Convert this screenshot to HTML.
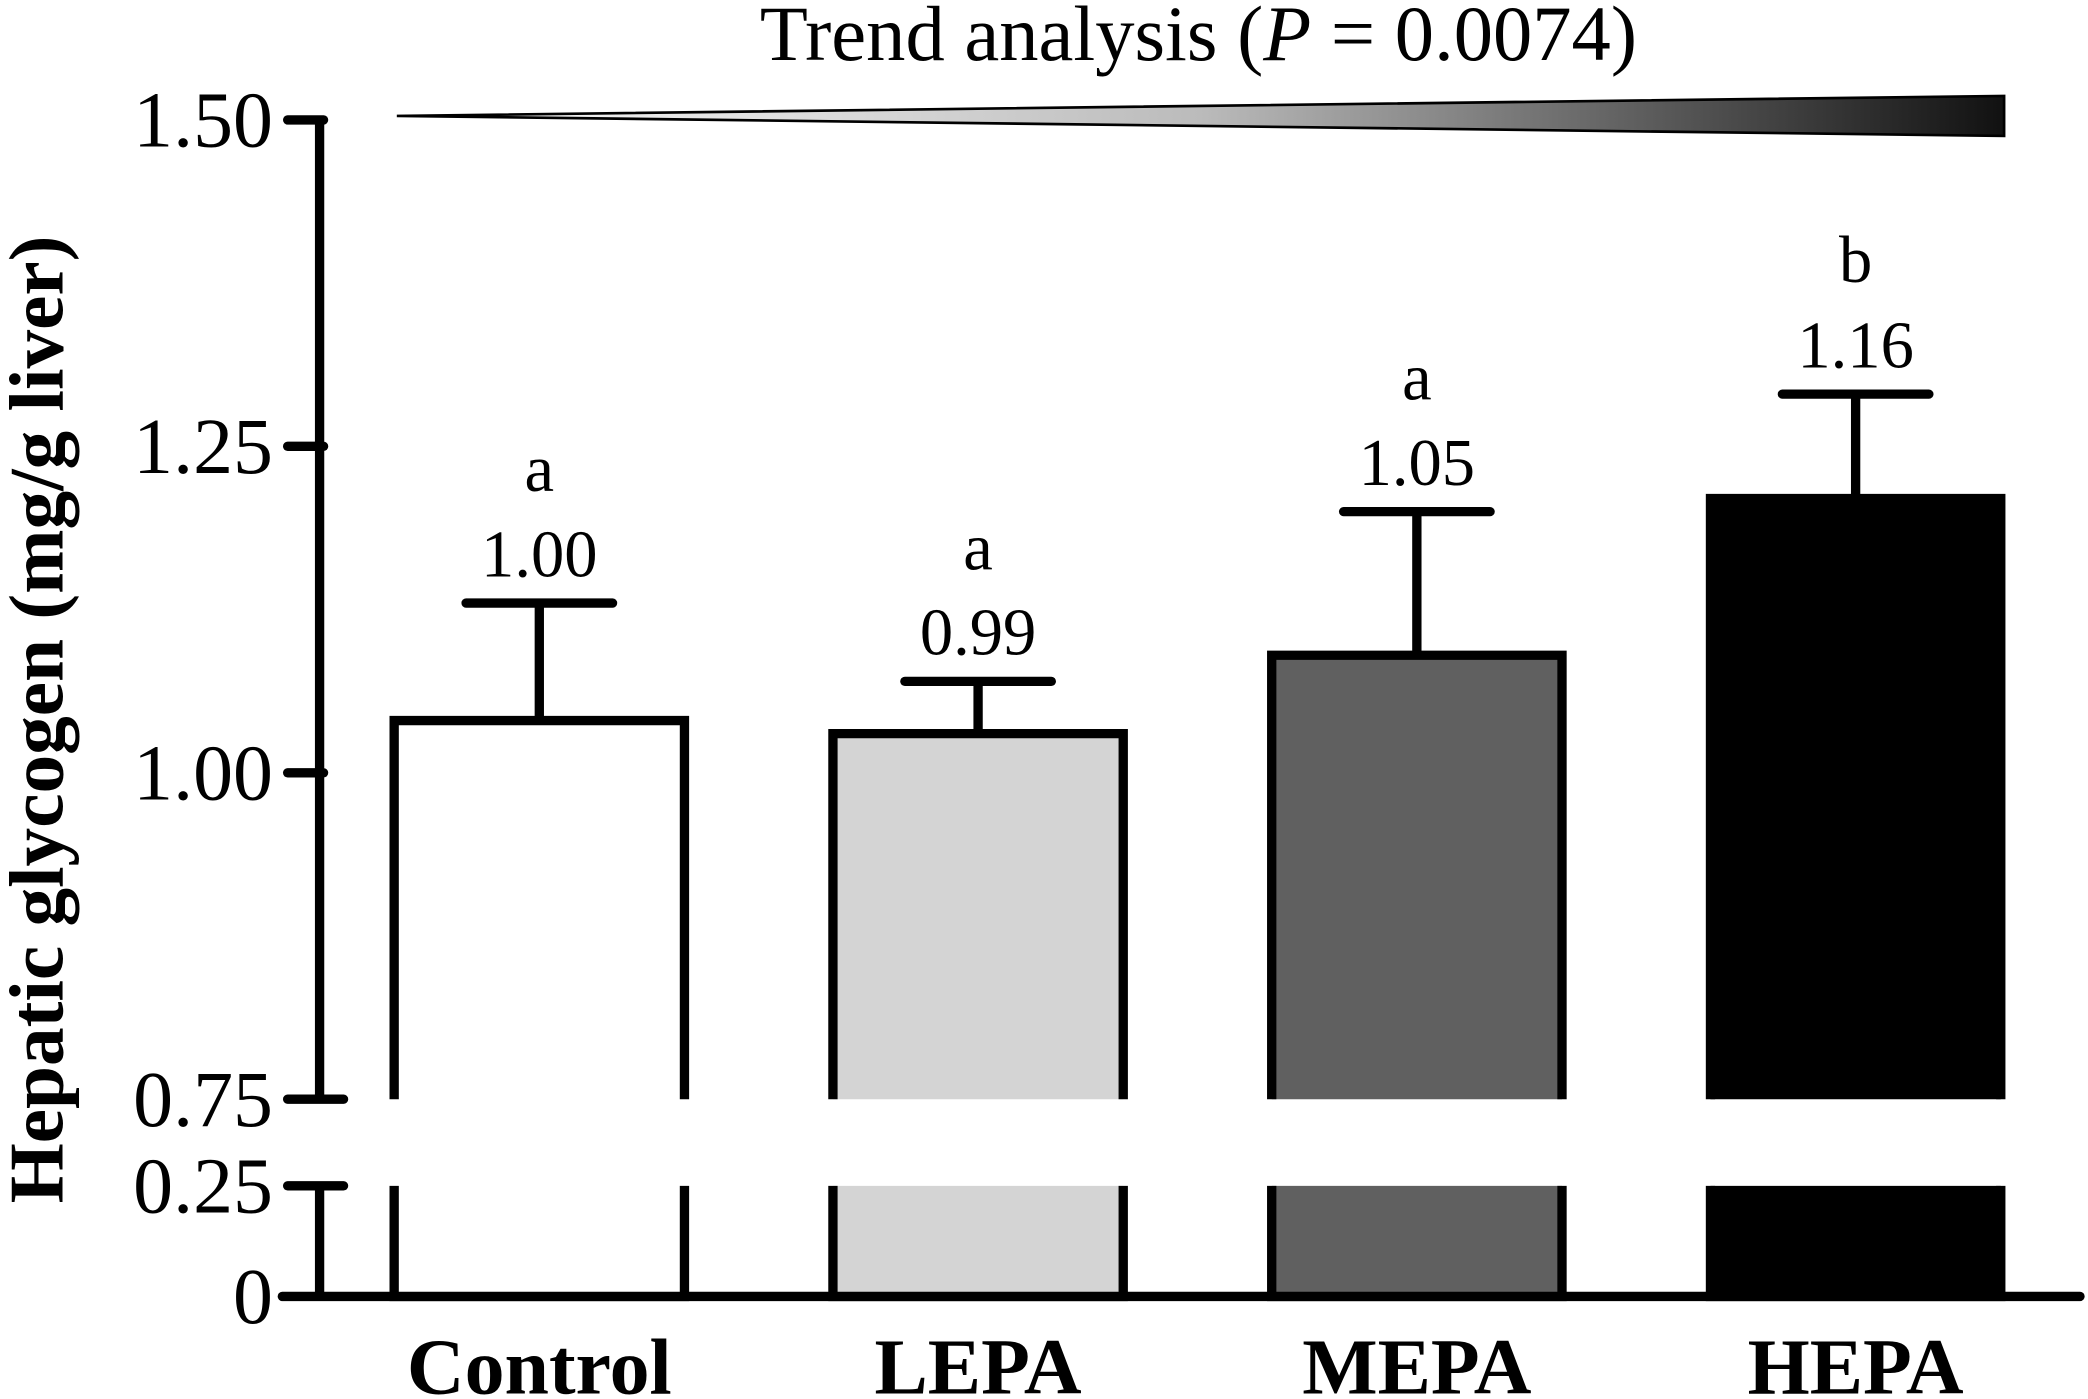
<!DOCTYPE html>
<html><head><meta charset="utf-8"><style>
html,body{margin:0;padding:0;background:#fff;width:2088px;height:1399px;overflow:hidden}
svg{display:block}
text{font-family:"Liberation Serif",serif;fill:#000}
</style></head><body>
<svg id="chart" width="2088" height="1399" viewBox="0 0 1568 1050" preserveAspectRatio="none" xmlns="http://www.w3.org/2000/svg">
<defs><linearGradient id="tg" x1="0" x2="1" y1="0" y2="0"><stop offset="0" stop-color="#fff"/><stop offset="0.5" stop-color="#bbb"/><stop offset="1" stop-color="#111"/></linearGradient></defs>
<text x="900" y="45" font-size="59" text-anchor="middle">Trend analysis (<tspan font-style="italic">P</tspan> = 0.0074)</text>
<polygon points="298,87 1505,72 1505,102" fill="url(#tg)" stroke="#000" stroke-width="2"/>
<text transform="translate(47,540) rotate(-90)" font-size="58" font-weight="bold" text-anchor="middle">Hepatic glycogen (mg/g liver)</text>
<g id="g"></g>
</svg>
<script>
const categories=["Control","LEPA","MEPA","HEPA"];
const means=[1.04,1.03,1.09,1.21];
const errTop=[1.13,1.07,1.20,1.29];
const printed=["1.00","0.99","1.05","1.16"];
const letters=["a","a","a","b"];
const fills=["#ffffff","#d4d4d4","#606060","#000000"];
const upperTicks=[1.50,1.25,1.00,0.75];
const upperLabels=["1.50","1.25","1.00","0.75"];
const lowerTicks=[0.25,0];
const lowerLabels=["0.25","0"];
const NS="http://www.w3.org/2000/svg";
const g=document.getElementById('g');
function yU(v){return 580-(v-1.0)*980;}
function yL(v){return 973-v*332;}
function xC(i){return 405+i*329.5;}
const BW=218;
function mk(t,a,p){const e=document.createElementNS(NS,t);for(const k in a)e.setAttribute(k,a[k]);(p||g).appendChild(e);return e;}
let e=mk('line',{x1:240,y1:yU(1.5),x2:240,y2:yU(0.75),stroke:'#000','stroke-width':7});


e=mk('line',{x1:240,y1:yL(0.25),x2:240,y2:yL(0),stroke:'#000','stroke-width':7});


e=mk('line',{x1:212,y1:yL(0),x2:1562,y2:yL(0),stroke:'#000','stroke-width':7,'stroke-linecap':'round'});


upperTicks.forEach((v,i)=>{
  const y=yU(v);
  const t=mk('line',{x1:216,y1:y,x2:v===0.75?258:243,y2:y,stroke:'#000','stroke-width':7,'stroke-linecap':'round'});
  
  
  const l=mk('text',{x:205,y:y+20,'font-size':60,'text-anchor':'end'});l.textContent=upperLabels[i];
  
  
});
lowerTicks.forEach((v,i)=>{
  const y=yL(v);
  if(v>0){const t=mk('line',{x1:216,y1:y,x2:258,y2:y,stroke:'#000','stroke-width':7,'stroke-linecap':'round'});
  
  }
  const l=mk('text',{x:205,y:y+20,'font-size':60,'text-anchor':'end'});l.textContent=lowerLabels[i];
  
  
});
categories.forEach((c,i)=>{
  const x0=xC(i)-BW/2, x1=xC(i)+BW/2;
  const top=yU(means[i]);
  const ey=yU(errTop[i]);
  let a=mk('line',{x1:xC(i),y1:ey,x2:xC(i),y2:top,stroke:'#000','stroke-width':7});
  
  
  a=mk('line',{x1:xC(i)-55,y1:ey,x2:xC(i)+55,y2:ey,stroke:'#000','stroke-width':7,'stroke-linecap':'round'});
  
  
  const b=mk('path',{d:`M${x0},${yU(0.75)}V${top}H${x1}V${yU(0.75)}`,fill:fills[i],stroke:'#000','stroke-width':7});
  
  
  const b2=mk('path',{d:`M${x0},${yL(0.25)}V${yL(0)}H${x1}V${yL(0.25)}`,fill:fills[i],stroke:'#000','stroke-width':7});
  
  
  const vl=mk('text',{x:xC(i),y:ey-20,'font-size':50,'text-anchor':'middle'});vl.textContent=printed[i];
  
  
  const ll=mk('text',{x:xC(i),y:ey-84,'font-size':50,'text-anchor':'middle'});ll.textContent=letters[i];
  
  
  const cl=mk('text',{x:xC(i),y:1046,'font-size':60,'font-weight':'bold','text-anchor':'middle'});cl.textContent=c;
  
  
});
</script>
</body></html>
